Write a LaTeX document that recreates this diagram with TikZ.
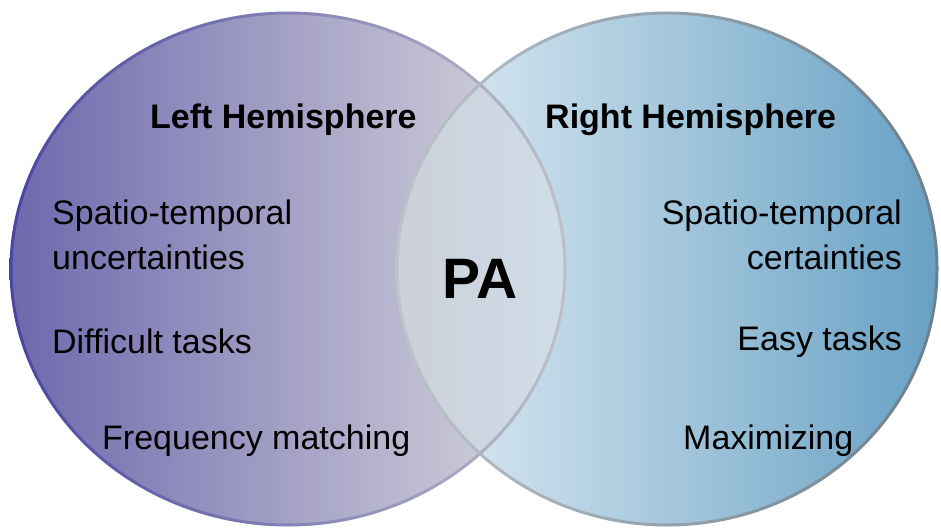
\documentclass[tikz,border=0pt]{standalone}
\usepackage{fontspec}
\setmainfont{Liberation Sans}
\definecolor{leftA}{HTML}{6E68AD}
\definecolor{leftB}{HTML}{DADADE}
\definecolor{rightA}{HTML}{E2EEF5}
\definecolor{rightB}{HTML}{68A1C4}
\definecolor{lensA}{HTML}{CBD0DA}
\definecolor{lensB}{HTML}{D0DDE7}
\definecolor{ringLA}{HTML}{4A44A2}
\definecolor{ringLB}{HTML}{BEC0C8}
\definecolor{ringRA}{HTML}{BCC4CA}
\definecolor{ringRB}{HTML}{6B7F8C}
\begin{document}
\begin{tikzpicture}[x=1pt,y=-1pt,
  head/.style={inner sep=0pt,font=\bfseries\fontsize{34}{40}\selectfont},
  item/.style={inner sep=0pt,font=\fontsize{34}{40}\selectfont},
  big/.style={inner sep=0pt,font=\bfseries\fontsize{57}{64}\selectfont}]
\useasboundingbox (0,0) rectangle (941,529);
\coordinate (lc) at (288,269);
\coordinate (rc) at (667,269);
% fills
\shade[left color=leftA, right color=leftB] (lc) ellipse [x radius=277, y radius=256];
\shade[left color=rightA, right color=rightB] (rc) ellipse [x radius=270, y radius=256];
\begin{scope}
  \clip (lc) ellipse [x radius=277, y radius=256];
  \clip (rc) ellipse [x radius=270, y radius=256];
  \shade[left color=lensA, right color=lensB] (397,80) rectangle (566,460);
\end{scope}
% outlines
\shade[left color=ringLA, right color=ringLB, even odd rule]
  (lc) ellipse [x radius=278.5, y radius=257.5]
  (lc) ellipse [x radius=275.5, y radius=254.5];
\shade[left color=ringRA, right color=ringRB, even odd rule]
  (rc) ellipse [x radius=271.5, y radius=257.5]
  (rc) ellipse [x radius=268.5, y radius=254.5];
% texts
\node[head, anchor=base west] (lh) at (150,129) {Left Hemisphere};
\node[head, anchor=base west] (rh) at (545,129) {Right Hemisphere};
\node[item, anchor=base west] (l1) at (52,225) {Spatio-temporal};
\node[item, anchor=base west] (l2) at (52,269) {uncertainties};
\node[item, anchor=base west] (l3) at (52,353) {Difficult tasks};
\node[item, anchor=base west] (l4) at (102,449) {Frequency matching};
\node[item, anchor=base east] (r1) at (902,225) {Spatio-temporal};
\node[item, anchor=base east] (r2) at (902,269) {certainties};
\node[item, anchor=base east] (r3) at (902,350) {Easy tasks};
\node[item, anchor=base west] (r4) at (683,449) {Maximizing};
\node[big, anchor=base] (pa) at (480,298) {PA};
\end{tikzpicture}
\end{document}
